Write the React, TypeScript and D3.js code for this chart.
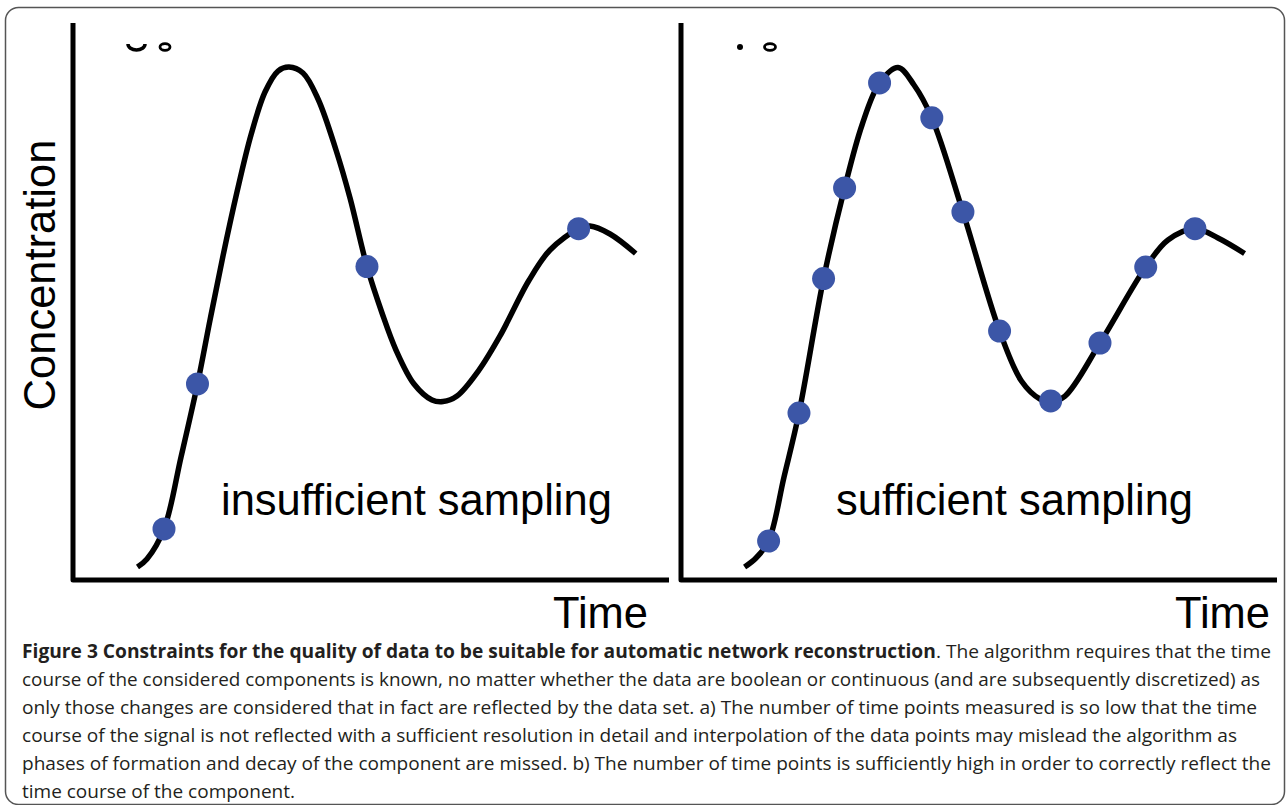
import React from 'react';
import * as d3 from 'd3';

// Underlying continuous signal as drawn in panel a) (time, concentration; arbitrary 0-100 units)
const curveATime = [10.97, 12.56, 15.41, 18.26, 21.02, 23.12, 25.29, 27.64, 29.98, 32.33, 34.51, 36.35, 38.69, 41.21, 44.22, 46.57, 49.41, 51.93, 54.27, 57.29, 60.3, 62.14, 64.49, 68.11, 71.69, 76.48, 80.07, 84.86, 86.77, 90.12, 94.42];
const curveAConc = [2.33, 3.77, 9.16, 22.08, 35.19, 46.68, 58.17, 69.66, 79.89, 87.61, 91.38, 92.1, 91.02, 86.36, 77.2, 68.58, 56.27, 47.94, 41.29, 35.19, 32.32, 32.03, 33.03, 37.59, 43.81, 53.68, 59.25, 63.07, 63.55, 62.12, 58.62];

// The same signal as drawn in panel b)
const curveBTime = [10.82, 12.73, 14.84, 17.42, 19.93, 24.05, 27.57, 30.49, 33.43, 36.52, 39.2, 42.18, 47.39, 53.53, 57.19, 60.3, 62.14, 64.49, 70.35, 78.01, 81.74, 86.26, 90.12, 94.57];
const curveBConc = [2.33, 3.95, 7.0, 18.49, 29.98, 54.11, 70.38, 81.69, 89.23, 92.01, 88.87, 82.98, 66.07, 44.7, 35.73, 32.5, 32.03, 33.03, 42.55, 56.19, 61.04, 63.07, 61.4, 58.62];

// Panel a) insufficient sampling
const sampleATime = [15.41, 21.02, 49.41, 84.86];
const sampleAConc = [9.16, 35.19, 56.27, 63.07];

// Panel b) sufficient sampling
const sampleBTime = [14.84, 19.93, 24.05, 27.57, 33.43, 42.18, 47.39, 53.53, 62.09, 70.35, 78.01, 86.26];
const sampleBConc = [7.0, 29.98, 54.11, 70.38, 89.23, 82.98, 66.07, 44.7, 32.14, 42.55, 56.19, 63.07];

const panelTitles = ['insufficient sampling', 'sufficient sampling'];
const xAxisLabel = 'Time';
const yAxisLabel = 'Concentration';

const captionBold = 'Figure 3 Constraints for the quality of data to be suitable for automatic network reconstruction';
const captionLines = [
  '. The algorithm requires that the time',
  'course of the considered components is known, no matter whether the data are boolean or continuous (and are subsequently discretized) as',
  'only those changes are considered that in fact are reflected by the data set. a) The number of time points measured is so low that the time',
  'course of the signal is not reflected with a sufficient resolution in detail and interpolation of the data points may mislead the algorithm as',
  'phases of formation and decay of the component are missed. b) The number of time points is sufficiently high in order to correctly reflect the',
  'time course of the component.',
];
const captionLineEnds = [1271, 1260, 1257, 1237, 1271, 295];

const W = 1287;
const H = 805;
const TOP = 23;
const BOTTOM = 580;
const PW = 597;
const SANS = "'Liberation Sans', Arial, Helvetica, sans-serif";
const DOT = '#3c56a7';

function Panel({ x0, cTimes, cConcs, times, concs, title, titleX, timeEnd, showYLabel, marks }: any) {
  const x = d3.scaleLinear().domain([0, 100]).range([x0, x0 + PW]);
  const y = d3.scaleLinear().domain([0, 100]).range([BOTTOM, TOP]);
  const pts: [number, number][] = cTimes.map((t: number, i: number) => [t, cConcs[i]]);
  const line = d3
    .line<[number, number]>()
    .x((d) => x(d[0]))
    .y((d) => y(d[1]))
    .curve(d3.curveCatmullRom.alpha(0.5));
  return (
    <g>
      <path d={line(pts) || ''} fill="none" stroke="#000" strokeWidth={5.5} strokeLinecap="butt" />
      {times.map((t: number, i: number) => (
        <circle key={i} cx={x(t)} cy={y(concs[i])} r={11.5} fill={DOT} />
      ))}
      <path
        d={`M${x0 + 1},${TOP} V${BOTTOM} H${x0 + PW}`}
        fill="none"
        stroke="#000"
        strokeWidth={5}
        strokeLinejoin="round"
      />
      <text x={x0 + titleX} y={514.5} fontFamily={SANS} fontSize={43.5} fill="#000">
        {title}
      </text>
      <text x={timeEnd} y={628} fontFamily={SANS} fontSize={43.5} fill="#000" textAnchor="end">
        {xAxisLabel}
      </text>
      {showYLabel && (
        <text
          transform={`translate(55,275) rotate(-90)`}
          fontFamily={SANS}
          fontSize={43.5}
          textAnchor="middle"
          fill="#000"
        >
          {yAxisLabel}
        </text>
      )}
      {marks}
    </g>
  );
}

export default function App() {
  const lineY = (i: number) => 658 + i * 28;
  return (
    <svg
      width={W}
      height={H}
      viewBox={`0 0 ${W} ${H}`}
      style={{ position: 'absolute', left: 0, top: 0, background: '#fff' }}
    >
      <rect x={0} y={0} width={W} height={H} fill="#fff" />
      <rect x={5.5} y={7.5} width={1279} height={797} rx={13} fill="none" stroke="#555" strokeWidth={1.5} />
      <Panel
        x0={72}
        cTimes={curveATime}
        cConcs={curveAConc}
        times={sampleATime}
        concs={sampleAConc}
        title={panelTitles[0]}
        titleX={149}
        timeEnd={648}
        showYLabel
        marks={
          <g>
            <path d="M128,44 A8.5,6 0 0 0 145,44" fill="none" stroke="#000" strokeWidth={3.5} />
            <ellipse cx={165} cy={47} rx={5} ry={3.3} fill="none" stroke="#000" strokeWidth={2.8} />
          </g>
        }
      />
      <Panel
        x0={680}
        cTimes={curveBTime}
        cConcs={curveBConc}
        times={sampleBTime}
        concs={sampleBConc}
        title={panelTitles[1]}
        titleX={156}
        timeEnd={1270}
        showYLabel={false}
        marks={
          <g>
            <circle cx={740} cy={47} r={3} fill="#000" />
            <ellipse cx={770} cy={47} rx={5.5} ry={3.3} fill="none" stroke="#000" strokeWidth={2.8} />
          </g>
        }
      />
      <g fontFamily="'Open Sans', 'Noto Sans', sans-serif" fontSize={19} fill="#231f20">
        {captionLines.map((l, i) => (
          <text
            key={i}
            x={22}
            y={lineY(i)}
            textLength={captionLineEnds[i] - 22}
            lengthAdjust="spacingAndGlyphs"
          >
            {i === 0 && <tspan fontWeight={700}>{captionBold}</tspan>}
            <tspan>{l}</tspan>
          </text>
        ))}
      </g>
    </svg>
  );
}
